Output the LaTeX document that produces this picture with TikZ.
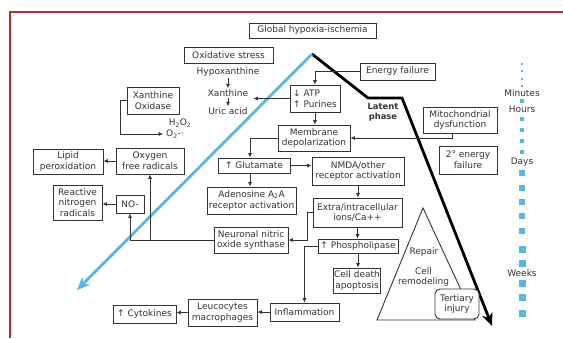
\documentclass[tikz,border=0pt]{standalone}
\usepackage{fontspec}
\setmainfont{DejaVu Sans}
\usetikzlibrary{arrows.meta}
\definecolor{framered}{HTML}{BF2A2A}
\definecolor{skyblue}{HTML}{55B7E3}
\definecolor{ink}{HTML}{333333}

\begin{document}
\begin{tikzpicture}[x=1pt, y=-1pt, font=\fontsize{9}{10.8}\selectfont,
  box/.style={draw=ink, line width=0.9pt, text=ink, align=center, inner sep=1pt},
  txt/.style={text=ink, align=center, inner sep=1pt},
  conn/.style={draw=ink, line width=0.7pt, -{Latex[length=4.5pt,width=4pt]}}]
\useasboundingbox (0,0) rectangle (563,338);
% Frame
\draw[framered, line width=2.6pt] (10,338) -- (10,12) -- (563,12);
% Time course lines
\coordinate (peak) at (312,54);
\draw[line width=2.8pt, -{Stealth[length=13pt,width=11pt]}] (peak) -- (368,98) -- (402,98) -- (492,326);
\draw[skyblue, line width=2.8pt, -{Stealth[length=13pt,width=11pt]}] (peak) -- (77,290);
% Top of cascade
\node[box, minimum width=127, minimum height=15] (global) at (312.5,30.5) {Global hypoxia-ischemia};
\node[box, minimum width=89, minimum height=16] (oxstress) at (228.5,55) {Oxidative stress};
\node[txt] (hypox) at (228,72) {Hypoxanthine};
\node[txt] (xanth) at (228,93) {Xanthine};
\node[txt] (uric) at (228,111) {Uric acid};
\node[box, align=left, minimum width=50, minimum height=27] (atp) at (315,98.5) {↓ ATP\\↑ Purines};
\node[box, minimum width=75, minimum height=17] (energy) at (397.5,71.5) {Energy failure};
\node[txt, font=\fontsize{8.4}{10}\selectfont\bfseries] (latent) at (383,112) {Latent\\phase};
\node[box, minimum width=74, minimum height=26] (mito) at (460,120) {Mitochondrial\\dysfunction};
\node[box, minimum width=58, minimum height=28] (energy2) at (468,160) {2° energy\\failure};
\node[box, minimum width=72, minimum height=26] (membrane) at (314,138) {Membrane\\depolarization};
% Left side
\node[box, minimum width=52, minimum height=27] (xoxid) at (153,100.5) {Xanthine\\Oxidase};
\node[txt] (h2o2) at (180,123) {H\textsubscript{2}O\textsubscript{2}};
\node[txt] (o2) at (175,134) {O\textsubscript{2}-·};
\node[box, minimum width=68, minimum height=26] (oxygen) at (150,161) {Oxygen\\free radicals};
\node[box, minimum width=70, minimum height=25] (lipid) at (68,161.5) {Lipid\\peroxidation};
\node[box, minimum width=28, minimum height=18] (no) at (130,204) {NO-};
\node[box, minimum width=49, minimum height=35] (reactive) at (77.5,202.5) {Reactive\\nitrogen\\radicals};
% Middle
\node[box, minimum width=72, minimum height=15] (glutamate) at (254,165.5) {↑ Glutamate};
\node[box, minimum width=92, minimum height=28] (nmda) at (358,171) {NMDA/other\\receptor activation};
\node[box, minimum width=89, minimum height=27] (adenosine) at (251.5,200.5) {Adenosine A\textsubscript{2}A\\receptor activation};
\node[box, minimum width=89, minimum height=29] (extra) at (357.5,212.5) {Extra/intracellular\\ions/Ca++};
\node[box, minimum width=74, minimum height=26] (neuronal) at (251,240) {Neuronal nitric\\oxide synthase};
\node[box, minimum width=80, minimum height=14] (phospho) at (358,246) {↑ Phospholipase};
\node[box, minimum width=46, minimum height=25] (celldeath) at (357,280.5) {Cell death\\apoptosis};
\node[box, minimum width=69, minimum height=18] (inflam) at (304.5,312) {Inflammation};
\node[box, minimum width=69, minimum height=27] (leuco) at (222.5,312.5) {Leucocytes\\macrophages};
\node[box, minimum width=63, minimum height=18] (cyto) at (144.5,314) {↑ Cytokines};
% Repair triangle
\draw[ink, line width=0.9pt] (423,208) -- (377,320) -- (475,320) -- cycle;
\node[txt] (repair) at (424,252) {Repair};
\node[txt] (remodel) at (423.5,277) {Cell\\remodeling};
\node[box, fill=white, rounded corners=5pt, minimum width=44, minimum height=30] (tertiary) at (457,304) {Tertiary\\injury};
% Connectors
\draw[conn] (hypox) -- (xanth);
\draw[conn] (xanth) -- (uric);
\draw[conn] (energy.west) -| (atp.north);
\draw[conn, shorten >=4pt] (atp.west) -- (xanth.east |- atp.west);
\draw[conn] (atp.south) -- (atp.south |- membrane.north);
\draw[conn] ([xshift=-8pt]mito.south) |- (membrane.east);
\draw[conn] (membrane.west) -| ([xshift=-4pt]glutamate.north);
\draw[conn] (glutamate.east) -- (nmda.west |- glutamate.east);
\draw[conn] ([xshift=-4pt]glutamate.south) -- ([xshift=-4pt]glutamate.south |- adenosine.north);
\draw[conn] (nmda.south) -- (nmda.south |- extra.north);
\draw[conn] (extra.west) -- ++(-5,0) |- (neuronal.east);
\draw[conn] (extra.south) -- (extra.south |- phospho.north);
\draw[conn] (phospho.south) -- (phospho.south |- celldeath.north);
\draw[conn] (phospho.west) -| (inflam.north);
\draw[conn] (inflam.west) -- (leuco.east |- inflam.west);
\draw[conn] (leuco.west) -- (cyto.east |- leuco.west);
\draw[conn] (neuronal.west) -| (no.south);
\draw[conn] (oxygen.south |- neuronal.west) -- (oxygen.south);
\draw[conn] (oxygen.west) -- (lipid.east |- oxygen.west);
\draw[conn] (no.west) -- (reactive.east |- no.west);
\draw[conn, shorten >=2pt] (xoxid.west) -- ++(-6,0) |- (o2.west);
% Time scale
\foreach \y/\s in {64/2.5, 71/2.5, 79/2.5, 86/2.5, 101/4, 119/4, 130/4, 141/4, 152/4.5,
  173/6, 188/6, 202/6.5, 216/6.5, 231/6.5, 249/7, 263/7, 283/7, 297/7, 313/7}
  \fill[skyblue] ({522-\s/2},{\y-\s/2}) rectangle ++(\s,\s);
\node[txt] (minutes) at (522,93) {Minutes};
\node[txt] (hours) at (522,109) {Hours};
\node[txt] (days) at (522,162) {Days};
\node[txt] (weeks) at (522,273) {Weeks};
\end{tikzpicture}
\end{document}
